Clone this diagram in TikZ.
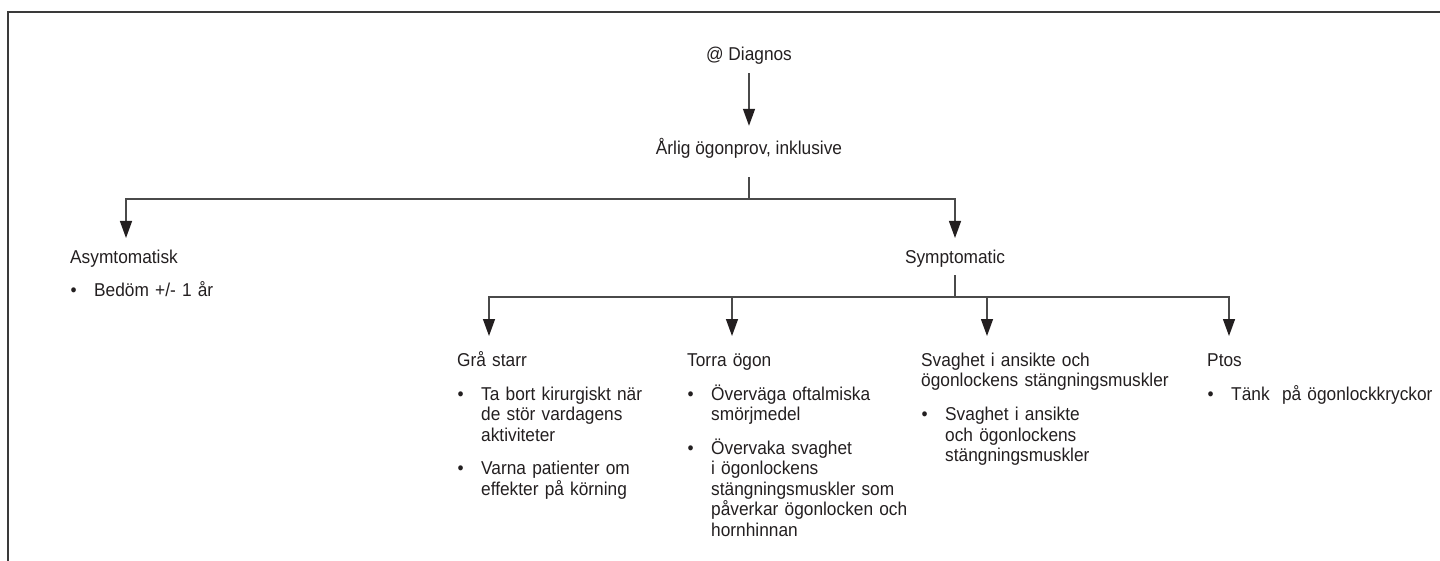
\documentclass[tikz,border=0pt]{standalone}
\usepackage{fontspec}
\setmainfont{Liberation Sans}[FakeStretch=0.93]
\usetikzlibrary{arrows.meta}
\definecolor{txt}{HTML}{231F20}
\definecolor{lncol}{HTML}{4A4A4A}
\definecolor{frm}{HTML}{3A3A3A}
\newcommand\bpt[1]{\par\noindent\makebox[24pt][l]{\hspace{0.5pt}•}\parbox[t]{210pt}{\raggedright #1\par\kern-\prevdepth}\par\prevdepth=0pt }
\newcommand\blkset{\setlength\parskip{13pt}}
\newcommand\nl{\hfil\break}
\begin{document}
\begin{tikzpicture}[x=1pt,y=-1pt,
  lbl/.style={inner sep=0pt, anchor=base, text=txt, font=\fontsize{18.6}{20.5}\selectfont, text height=13.5pt, text depth=4.5pt},
  blk/.style={inner sep=0pt, anchor=base west, text=txt, font=\fontsize{18.6}{20.5}\selectfont, text width=#1, align=left},
  conn/.style={draw=lncol, line width=1.4pt},
  arr/.style={conn, -{Triangle[length=17pt,width=12pt,color=txt]}}
]
\useasboundingbox (0,0) rectangle (1440,561);
\draw[line width=2pt, draw=frm] (7.5,561) -- (7.5,12) -- (1440,12);

\node[lbl] (diag) at (749,61) {@ Diagnos};
\node[lbl] (arl) at (749,154.5) {Årlig ögonprov, inklusive};
\node[blk=250pt] (asym) at (70,263.5) {\blkset Asymtomatisk\bpt{Bedöm +/- 1 år}};
\node[lbl] (sym) at (955,263.5) {Symptomatic};

\node[blk=240pt] (gra) at (457,366.5) {\blkset Grå starr\bpt{Ta bort kirurgiskt när\\de stör vardagens\\aktiviteter}\bpt{Varna patienter om\\effekter på körning}};
\node[blk=240pt] (tor) at (687,366.5) {\blkset Torra ögon\bpt{Överväga oftalmiska\\smörjmedel}\bpt{Övervaka svaghet\\i ögonlockens\\stängningsmuskler som\\påverkar ögonlocken och\\hornhinnan}};
\node[blk=290pt] (sva) at (921,366.5) {\blkset Svaghet i ansikte och\nl ögonlockens stängningsmuskler\bpt{Svaghet i ansikte\\och ögonlockens\\stängningsmuskler}};
\node[blk=232pt] (pto) at (1207,366.5) {\blkset Ptos\bpt{Tänk\ \ på ögonlockkryckor}};

% connectors
\draw[arr] ([yshift=-7.5pt]diag.south) -- ([yshift=15pt]arl.north);

\coordinate (j1) at (749,199);
\coordinate (tA) at (126,238);
\coordinate (tS) at (955,238);
\draw[conn] ([yshift=-18pt]arl.south) -- (j1);
\draw[arr] (j1) -| (tA);
\draw[arr] (j1) -| (tS);

\coordinate (j2) at (955,297);
\coordinate (tG) at (489,336);
\coordinate (tT) at (732,336);
\coordinate (tV) at (987,336);
\coordinate (tP) at (1229,336);
\draw[conn] ([yshift=-7pt]sym.south) -- (j2);
\draw[arr] (j2) -| (tG);
\draw[arr] (j2) -| (tT);
\draw[arr] (j2) -| (tV);
\draw[arr] (j2) -| (tP);
\end{tikzpicture}
\end{document}
